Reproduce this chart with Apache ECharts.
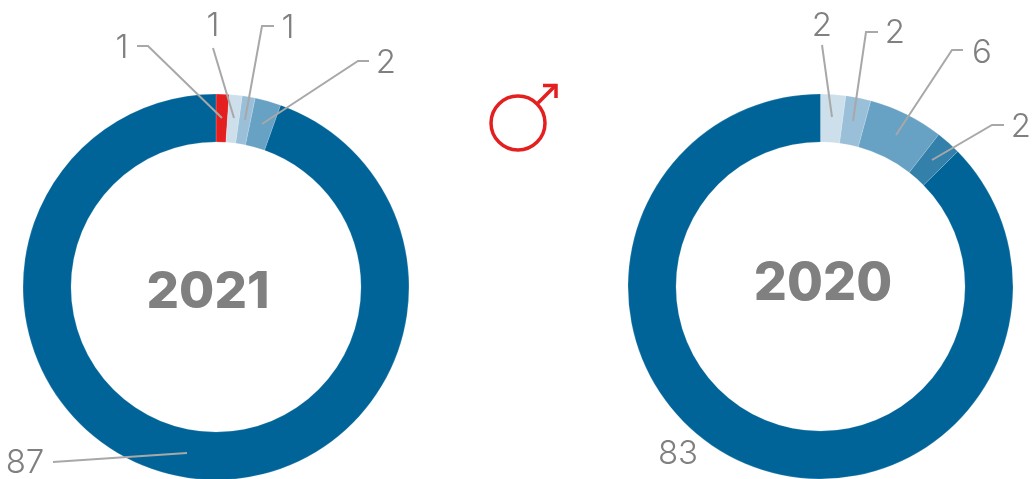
<!DOCTYPE html>
<html><head><meta charset="utf-8">
<style>html,body{margin:0;padding:0;background:#fff}#c{width:1034px;height:479px}</style>
<script src="https://cdn.jsdelivr.net/npm/echarts@6/dist/echarts.min.js"></script>
</head><body><div id="c"></div>
<script>
const values2021 = [1, 1, 1, 2, 87];
const colors2021 = ['#E31F1F', '#CCDFEB', '#9ABFD8', '#67A1C4', '#006498'];
const values2020 = [2, 2, 6, 2, 83];
const colors2020 = ['#CCDFEB', '#9ABFD8', '#67A1C4', '#3380AA', '#006498'];
const years = ['2021', '2020'];

// label anchors and leader lines, in the same order as the values
const layout2021 = [
  {x:122, y:48, line:[[222,118],[148,46],[137,46]]},
  {x:213, y:26, line:[[234,118],[213,48]]},
  {x:288, y:28, line:[[245,120],[262,26],[274,26]]},
  {x:386, y:63, line:[[262,124],[358,61],[369,61]]},
  {x:25, y:463, line:[[187,453],[53,462]]}
];
const layout2020 = [
  {x:822, y:26, line:[[832,117],[822,45]]},
  {x:895, y:33, line:[[853,121],[866,32],[878,32]]},
  {x:982, y:53, line:[[896,135],[952,50],[963,50]]},
  {x:1021, y:127, line:[[932,160],[992,125],[1004,125]]},
  {x:678, y:454, line:null}
];

const TEXT = '#808080', LINE = '#A8A8A8', FONT = 'Inter, "Noto Sans", sans-serif';

// The ring itself
function ring(values, colors, center, radius) {
  return {
    type: 'pie', center, radius, startAngle: 90, clockwise: true, z: 2,
    animation: false, silent: true,
    itemStyle: {borderColor: 'rgba(255,255,255,0.35)', borderWidth: 0.5},
    label: {show: false}, labelLine: {show: false},
    data: values.map((v, i) => ({value: v, itemStyle: {color: colors[i]}}))
  };
}

// Same values, invisible slices: carries the value labels and leaders above the ring
function labels(values, layout, center, radius) {
  return {
    type: 'pie', center, radius, startAngle: 90, clockwise: true, z: 3,
    animation: false, silent: true, avoidLabelOverlap: false, minShowLabelAngle: 0,
    itemStyle: {color: 'rgba(0,0,0,0)'},
    label: {show: true, formatter: '{c}', color: TEXT, fontFamily: FONT, fontWeight: 300, fontSize: 33},
    labelLine: {show: true, lineStyle: {color: LINE, width: 2}},
    data: values.map((v, i) => ({value: v, labelLine: {show: !!layout[i].line}})),
    labelLayout: p => {
      const l = layout[p.dataIndex];
      const o = {x: l.x, y: l.y, align: 'center', verticalAlign: 'middle', hideOverlap: false};
      if (l.line) o.labelLinePoints = l.line;
      return o;
    }
  };
}

const chart = echarts.init(document.getElementById('c'), null, {renderer: 'canvas'});
chart.setOption({
  animation: false,
  backgroundColor: '#fff',
  series: [
    ring(values2021, colors2021, [216, 287], [145, 193]),
    ring(values2020, colors2020, [820.5, 286.5], [144.5, 192.5]),
    labels(values2021, layout2021, [216, 287], [145, 193]),
    labels(values2020, layout2020, [820.5, 286.5], [144.5, 192.5])
  ],
  graphic: [
    {type:'text', x:208, y:293, style:{text:years[0], fill:TEXT, font:'800 51px '+FONT, textAlign:'center', textVerticalAlign:'middle'}},
    {type:'text', x:823, y:284, style:{text:years[1], fill:TEXT, font:'800 52px '+FONT, textAlign:'center', textVerticalAlign:'middle'}},
    {type:'circle', shape:{cx:518, cy:123, r:27}, style:{fill:'none', stroke:'#E31F1F', lineWidth:3.5}},
    {type:'line', shape:{x1:538, y1:103, x2:556, y2:85}, style:{stroke:'#E31F1F', lineWidth:3.5}},
    {type:'polyline', shape:{points:[[543,85.5],[556,85.5],[556,98]]}, style:{fill:'none', stroke:'#E31F1F', lineWidth:3.5}}
  ]
});
</script></body></html>
